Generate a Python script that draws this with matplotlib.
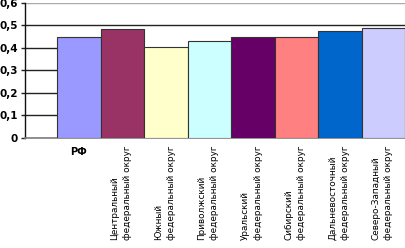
import matplotlib
matplotlib.use("Agg")
import matplotlib.pyplot as plt

categories = ["РФ",
              "Центральный\nфедеральный округ",
              "Южный\nфедеральный округ",
              "Приволжский\nфедеральный округ",
              "Уральский\nфедеральный округ",
              "Сибирский\nфедеральный округ",
              "Дальневосточный\nфедеральный округ",
              "Северо-Западный\nфедеральный округ"]
values = [0.448, 0.483, 0.403, 0.432, 0.448, 0.448, 0.476, 0.486]
colors = ["#9999ff", "#993366", "#ffffcc", "#ccffff",
          "#660066", "#ff8080", "#0066cc", "#ccccff"]
yticks = [0, 0.1, 0.2, 0.3, 0.4, 0.5, 0.6]
ytick_labels = ["0", "0,1", "0,2", "0,3", "0,4", "0,5", "0,6"]

fig = plt.figure(figsize=(4.06, 2.48), dpi=100)
ax = fig.add_axes([25/406, 110/248, 381/406, 135.3/248])

x = list(range(len(values)))
ax.bar(x, values, width=1.0, color=colors, edgecolor="#333333", linewidth=0.8, zorder=3)

ax.set_ylim(0, 0.6)
ax.set_xlim(-1.236, 7.52)
ax.set_yticks(yticks)
ax.set_yticklabels(ytick_labels, fontsize=7.5, fontweight="bold")
ax.tick_params(axis="y", length=3, width=1, pad=2, color="#222222")
ax.set_xticks([])

ax.yaxis.grid(True, color="#222222", linewidth=1.0, zorder=0)
gl = ax.get_ygridlines()
gl[-1].set_color("#aaaaaa")
ax.set_axisbelow(True)

for s in ["top", "right"]:
    ax.spines[s].set_visible(False)
ax.spines["left"].set_color("#111111")
ax.spines["left"].set_linewidth(1.0)
ax.spines["bottom"].set_color("#808080")
ax.spines["bottom"].set_linewidth(1.2)

for i, lab in enumerate(categories):
    if i == 0:
        ax.annotate(lab, xy=(i, 0), xycoords=("data", "axes fraction"),
                    xytext=(0, -9), textcoords="offset pixels",
                    ha="center", va="top", fontsize=7, fontweight="bold")
    else:
        ax.annotate(lab, xy=(i, 0), xycoords=("data", "axes fraction"),
                    xytext=(-1, -8), textcoords="offset pixels",
                    ha="center", va="top", rotation=90,
                    multialignment="left", fontsize=6.4, linespacing=1.6)

fig.savefig("out.png", dpi=100)
